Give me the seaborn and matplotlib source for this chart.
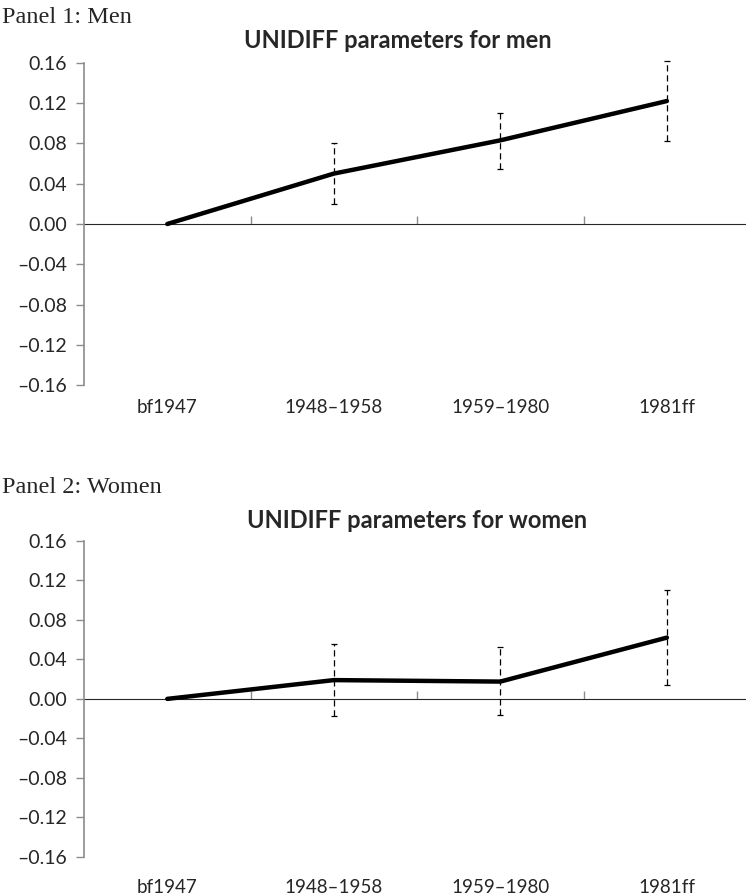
import pandas as pd
import matplotlib.pyplot as plt
import seaborn as sns

cohorts = ['bf1947', '1948–1958', '1959–1980', '1981ff']

men_est = [0.000, 0.050, 0.083, 0.122]
men_lo = [0.000, 0.020, 0.055, 0.082]
men_hi = [0.000, 0.080, 0.110, 0.162]

women_est = [0.000, 0.019, 0.0175, 0.062]
women_lo = [0.000, -0.0176, -0.0166, 0.014]
women_hi = [0.000, 0.056, 0.052, 0.110]

yticks = [-0.16, -0.12, -0.08, -0.04, 0.00, 0.04, 0.08, 0.12, 0.16]

sns.set_style('white')
plt.rcParams['font.family'] = ['Lato', 'DejaVu Sans']

AXIS_GREY = '#8c8c8c'


def draw_panel(fig, rect, est, lo, hi, title, title_x, title_pad, xpad):
    ax = fig.add_axes(rect)
    full = pd.DataFrame({'cohort': cohorts, 'est': est})
    df = pd.DataFrame({'cohort': cohorts, 'est': est, 'lo': lo, 'hi': hi}).iloc[1:]

    sns.lineplot(data=full, x='cohort', y='est', ax=ax, color='black',
                 linewidth=3.2, sort=False)
    xpos = [cohorts.index(c) for c in df['cohort']]
    eb = ax.errorbar(xpos, df['est'], yerr=[df['est'] - df['lo'], df['hi'] - df['est']],
                     fmt='none', ecolor='black', elinewidth=0.9, capsize=2.5,
                     capthick=0.9)
    for lc in eb.lines[2]:
        lc.set_linestyle((0, (5, 3)))
        lc.set_clip_on(False)
    for cap in eb.lines[1]:
        cap.set_clip_on(False)

    ax.set_xlim(-0.5, len(cohorts) - 0.5)
    ax.set_ylim(-0.16, 0.16)
    ax.set_yticks(yticks)
    ax.set_yticklabels([f'{v:.2f}'.replace('-', '–') for v in yticks])
    ax.set_xticks(range(len(cohorts)))
    ax.set_xticklabels(cohorts)
    ax.tick_params(axis='x', length=0, pad=xpad, labelsize=13.5)
    ax.tick_params(axis='y', length=6, width=1, color=AXIS_GREY,
                   direction='out', labelsize=14, pad=6, left=True)
    ax.set_xlabel('')
    ax.set_ylabel('')

    for side in ['top', 'right', 'bottom']:
        ax.spines[side].set_visible(False)
    ax.spines['left'].set_color(AXIS_GREY)
    ax.spines['left'].set_linewidth(1.2)

    # zero line with category boundary ticks
    sec = ax.secondary_xaxis(0.5)
    sec.set_xticks([i + 0.5 for i in range(len(cohorts) - 1)])
    sec.set_xticklabels([])
    sec.tick_params(length=6, width=1, color=AXIS_GREY, direction='out')
    sec.spines['bottom'].set_color(AXIS_GREY)
    sec.spines['bottom'].set_linewidth(1.2)

    ax.set_title(title, fontsize=17, fontweight='bold', x=title_x, pad=title_pad)
    return ax


fig = plt.figure(figsize=(7.46, 8.96), dpi=100)
draw_panel(fig, [0.1126, 0.570, 0.893, 0.360], men_est, men_lo, men_hi,
           'UNIDIFF parameters for men', 0.471, 10.5, 10)
draw_panel(fig, [0.1126, 0.0435, 0.893, 0.353], women_est, women_lo, women_hi,
           'UNIDIFF parameters for women', 0.50, 9.3, 16)

fig.text(0.003, 0.9743, 'Panel 1: Men', fontsize=17.5,
         family='Liberation Serif', va='baseline', ha='left')
fig.text(0.003, 0.4498, 'Panel 2: Women', fontsize=17.5,
         family='Liberation Serif', va='baseline', ha='left')

fig.savefig('out.png', dpi=100)
